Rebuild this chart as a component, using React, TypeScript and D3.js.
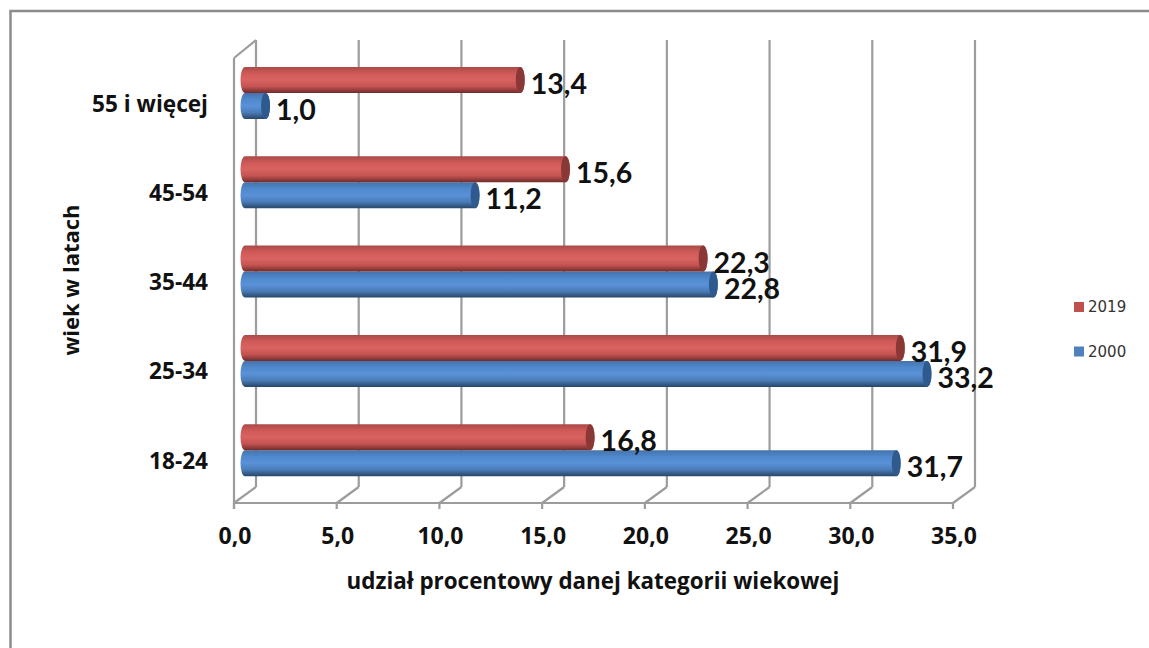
import React from 'react';
import * as d3 from 'd3';

const categories = ['55 i więcej', '45-54', '35-44', '25-34', '18-24'];
const series2019 = [13.4, 15.6, 22.3, 31.9, 16.8];
const series2000 = [1.0, 11.2, 22.8, 33.2, 31.7];
const tickValues = [0, 5, 10, 15, 20, 25, 30, 35];
const seriesNames = ['2019', '2000'];

const width = 1149;
const height = 648;
const depthX = 22;
const depthY = 16;
const floorY = 503;
const wallTop = 40;
const barOffset = 11;
const capRx = 4.5;

const comma = (v: number) => v.toFixed(1).replace('.', ',');
const valueFont = 'Lato, sans-serif';
const axisFont = "'Open Sans', sans-serif";
const gridColor = '#9c9c9c';

const x = d3.scaleLinear().domain([0, 35]).range([234, 953]);
const yOuter = d3.scaleBand<string>()
  .domain(categories)
  .range([48.35, 494.85])
  .paddingInner(0.418)
  .paddingOuter(0.209);
const yInner = d3.scaleBand<string>()
  .domain(seriesNames)
  .range([0, yOuter.bandwidth()]);

const palette: Record<string, { id: string; stops: string[]; cap: string; swatch: string }> = {
  '2019': { id: 'grad2019', stops: ['#a94a48', '#cf5a58', '#d96361', '#c45351', '#6f2c2b'], cap: '#8a3836', swatch: '#c0504d' },
  '2000': { id: 'grad2000', stops: ['#4473ab', '#5088cc', '#5a91d8', '#4a7cb8', '#284668'], cap: '#2f5a8e', swatch: '#4f81bd' },
};
const stopOffsets = ['0%', '25%', '50%', '75%', '100%'];

const Bar: React.FC<{ cat: string; name: string; value: number }> = ({ cat, name, value }) => {
  const top = (yOuter(cat) || 0) + (yInner(name) || 0);
  const h = yInner.bandwidth();
  const x0 = x(0) + barOffset;
  const x1 = x(value) + barOffset;
  const c = palette[name];
  const d = `M${x0},${top} L${x1},${top} A${capRx},${h / 2} 0 0 1 ${x1},${top + h} L${x0},${top + h} A${capRx},${h / 2} 0 0 1 ${x0},${top} Z`;
  return (
    <g>
      <path d={d} fill={`url(#${c.id})`} />
      <ellipse cx={x1} cy={top + h / 2} rx={capRx} ry={h / 2} fill={c.cap} />
    </g>
  );
};

const ValueLabel: React.FC<{ cat: string; name: string; value: number }> = ({ cat, name, value }) => {
  const top = (yOuter(cat) || 0) + (yInner(name) || 0);
  return (
    <text
      x={x(value) + barOffset + capRx + 6}
      y={top + yInner.bandwidth() / 2 + 3}
      fontFamily={valueFont}
      fontSize={28.5}
      fontWeight={700}
      fill="#111"
      dominantBaseline="central"
    >
      {comma(value)}
    </text>
  );
};

export default function App() {
  return (
    <svg
      width={width}
      height={height}
      style={{ position: 'absolute', left: 0, top: 0, background: '#fff' }}
    >
      <defs>
        {seriesNames.map(n => (
          <linearGradient key={n} id={palette[n].id} x1="0" y1="0" x2="0" y2="1">
            {palette[n].stops.map((s, i) => (
              <stop key={i} offset={stopOffsets[i]} stopColor={s} />
            ))}
          </linearGradient>
        ))}
      </defs>

      {/* outer frame, only top and left show */}
      <path d={`M${width},11 L10.5,11 L10.5,${height}`} fill="none" stroke="#8c8c8c" strokeWidth={2.5} />

      {/* back wall gridlines */}
      {tickValues.map(t => (
        <line key={t} x1={x(t) + depthX} x2={x(t) + depthX} y1={wallTop} y2={floorY - depthY} stroke={gridColor} strokeWidth={2.2} />
      ))}
      {/* floor diagonals and ticks */}
      {tickValues.map(t => (
        <g key={t}>
          <line x1={x(t)} x2={x(t) + depthX} y1={floorY} y2={floorY - depthY} stroke={gridColor} strokeWidth={2.2} />
          <line x1={x(t)} x2={x(t)} y1={floorY} y2={floorY + 6} stroke={gridColor} strokeWidth={2.2} />
          <text x={x(t) + 1} y={535} textAnchor="middle" dominantBaseline="central" fontFamily={axisFont} fontSize={23} fontWeight={700} fill="#111">
            {comma(t)}
          </text>
        </g>
      ))}
      <line x1={x(0)} x2={x(35)} y1={floorY} y2={floorY} stroke={gridColor} strokeWidth={2.2} />
      {/* side wall */}
      <line x1={x(0)} x2={x(0)} y1={wallTop + depthY + 2} y2={floorY + 6} stroke={gridColor} strokeWidth={2.2} />
      <line x1={x(0)} x2={x(0) + depthX} y1={wallTop + depthY + 2} y2={wallTop} stroke={gridColor} strokeWidth={2.2} />

      {/* bars */}
      {categories.map((c, i) => (
        <g key={c}>
          <Bar cat={c} name="2000" value={series2000[i]} />
          <Bar cat={c} name="2019" value={series2019[i]} />
        </g>
      ))}
      {categories.map((c, i) => (
        <g key={c}>
          <ValueLabel cat={c} name="2019" value={series2019[i]} />
          <ValueLabel cat={c} name="2000" value={series2000[i]} />
        </g>
      ))}

      {/* category labels */}
      {categories.map(c => (
        <text
          key={c}
          x={208}
          y={(yOuter(c) || 0) + yOuter.bandwidth() / 2 + 10}
          textAnchor="end"
          dominantBaseline="central"
          fontFamily={axisFont}
          fontSize={22.6}
          fontWeight={700}
          fill="#111"
        >
          {c}
        </text>
      ))}

      {/* axis titles */}
      <text x={593} y={580} textAnchor="middle" dominantBaseline="central" fontFamily={axisFont} fontSize={22.4} fontWeight={700} fill="#111">
        udział procentowy danej kategorii wiekowej
      </text>
      <text
        transform="translate(70,280) rotate(-90)"
        textAnchor="middle"
        dominantBaseline="central"
        fontFamily={axisFont}
        fontSize={22}
        fontWeight={700}
        fill="#111"
      >
        wiek w latach
      </text>

      {/* legend */}
      {seriesNames.map((n, i) => (
        <g key={n}>
          <rect x={1074} y={302 + i * 44.5} width={10} height={10} fill={palette[n].swatch} />
          <text x={1088} y={307 + i * 44.5} dominantBaseline="central" fontFamily="'DejaVu Sans', sans-serif" fontSize={15} fill="#333">
            {n}
          </text>
        </g>
      ))}
    </svg>
  );
}
